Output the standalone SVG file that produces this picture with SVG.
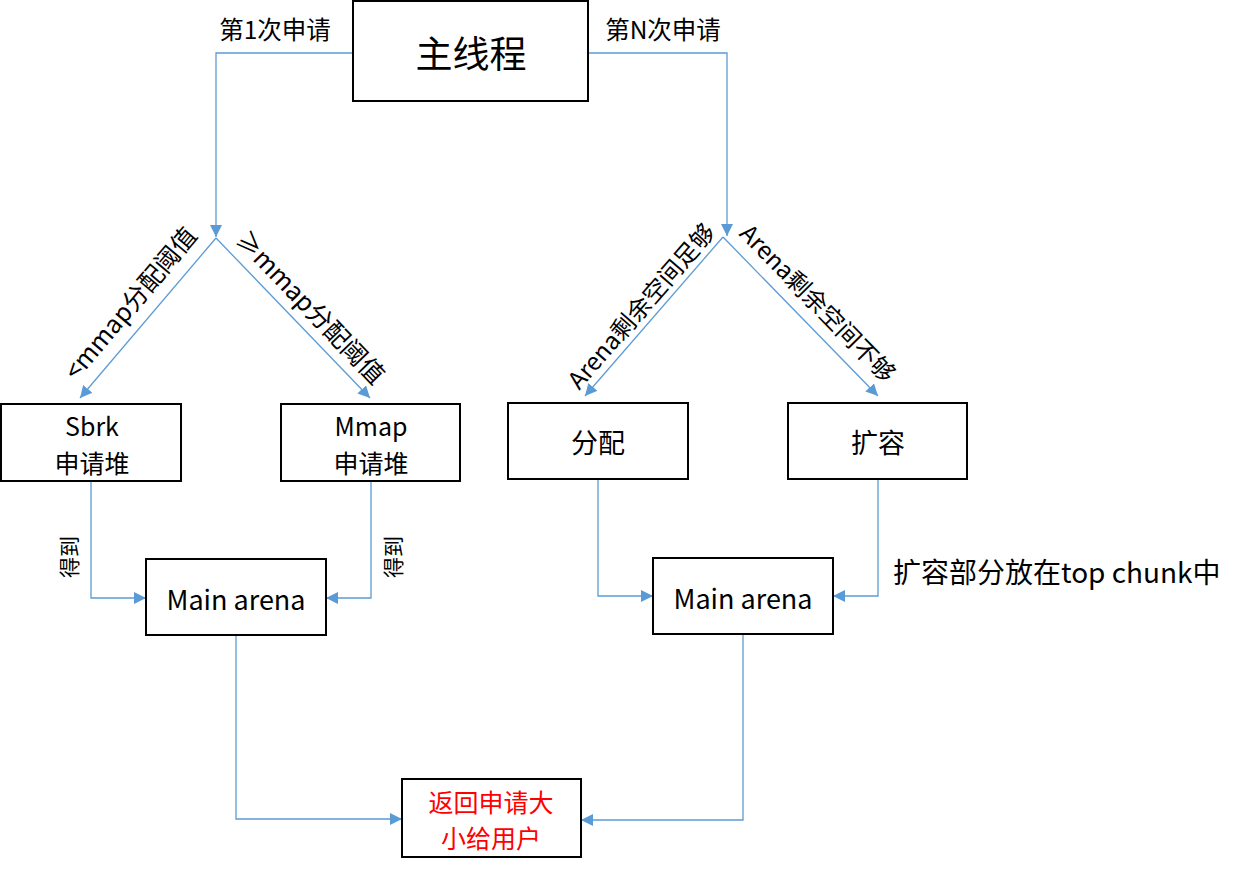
<svg xmlns="http://www.w3.org/2000/svg" width="1242" height="872" viewBox="0 0 1242 872">
<style>
.box{fill:#fff;stroke:#000;stroke-width:2}
.t{font-family:"Noto Sans CJK SC","Noto Sans",sans-serif;fill:#000;text-anchor:middle;dominant-baseline:central}
.c{fill:none;stroke:#5B9BD5;stroke-width:1.3}
.red{fill:#FF0000}
</style>
<defs>
<marker id="ah" viewBox="0 0 10 10" refX="10" refY="5" markerWidth="12" markerHeight="12" markerUnits="userSpaceOnUse" orient="auto">
<path d="M0,0 L10,5 L0,10 z" fill="#5B9BD5"/>
</marker>
</defs>
<rect width="1242" height="872" fill="#fff"/>
<g id="connectors">
<path class="c" d="M353,53 H216 V237" marker-end="url(#ah)"/>
<path class="c" d="M588,53 H727 V236" marker-end="url(#ah)"/>
<path class="c" d="M216,238 L80,398" marker-end="url(#ah)"/>
<path class="c" d="M216,238 L370,398" marker-end="url(#ah)"/>
<path class="c" d="M723,237 L585,396" marker-end="url(#ah)"/>
<path class="c" d="M723,237 L878,396" marker-end="url(#ah)"/>
<path class="c" d="M91,481 V598 H146" marker-end="url(#ah)"/>
<path class="c" d="M371,481 V598 H326" marker-end="url(#ah)"/>
<path class="c" d="M598,479 V596 H653" marker-end="url(#ah)"/>
<path class="c" d="M878,479 V596 H833" marker-end="url(#ah)"/>
<path class="c" d="M236,635 V819 H402" marker-end="url(#ah)"/>
<path class="c" d="M743,634 V820 H581" marker-end="url(#ah)"/>
<text class="t" font-size="24.5" x="275" y="28">第1次申请</text>
<text class="t" font-size="24.5" x="663" y="28">第N次申请</text>
<text class="t" font-size="25" transform="translate(129,302) rotate(-50)">&lt;mmap分配阈值</text>
<text class="t" font-size="25" transform="translate(312,306) rotate(46)">≥mmap分配阈值</text>
<text class="t" font-size="24" transform="translate(640,305) rotate(-49)">Arena剩余空间足够</text>
<text class="t" font-size="24" transform="translate(819,302) rotate(45.5)">Arena剩余空间不够</text>
<text class="t" font-size="21" transform="translate(68,557) rotate(-90)">得到</text>
<text class="t" font-size="21" transform="translate(392,557) rotate(-90)">得到</text>
<text class="t" font-size="28" x="893" y="571" style="text-anchor:start">扩容部分放在top chunk中</text>
</g>
<g id="main-thread">
<rect class="box" x="353" y="1" width="235" height="100"/>
<text class="t" font-size="37" x="471" y="52">主线程</text>
</g>
<g id="sbrk">
<rect class="box" x="1" y="404" width="180" height="77"/>
<text class="t" font-size="25" x="92" y="425">Sbrk</text>
<text class="t" font-size="25" x="92" y="462">申请堆</text>
</g>
<g id="mmap">
<rect class="box" x="281" y="404" width="179" height="77"/>
<text class="t" font-size="25" x="371" y="425">Mmap</text>
<text class="t" font-size="25" x="371" y="462">申请堆</text>
</g>
<g id="alloc">
<rect class="box" x="508" y="403" width="180" height="76"/>
<text class="t" font-size="27" x="598" y="441">分配</text>
</g>
<g id="expand">
<rect class="box" x="788" y="403" width="179" height="76"/>
<text class="t" font-size="27" x="878" y="441">扩容</text>
</g>
<g id="main-arena-left">
<rect class="box" x="146" y="559" width="180" height="76"/>
<text class="t" font-size="27" x="236" y="598">Main arena</text>
</g>
<g id="main-arena-right">
<rect class="box" x="653" y="558" width="180" height="76"/>
<text class="t" font-size="27" x="743" y="597">Main arena</text>
</g>
<g id="return">
<rect class="box" x="402" y="779" width="179" height="78"/>
<text class="t red" font-size="25" x="491" y="801">返回申请大</text>
<text class="t red" font-size="25" x="491" y="837">小给用户</text>
</g>
</svg>
